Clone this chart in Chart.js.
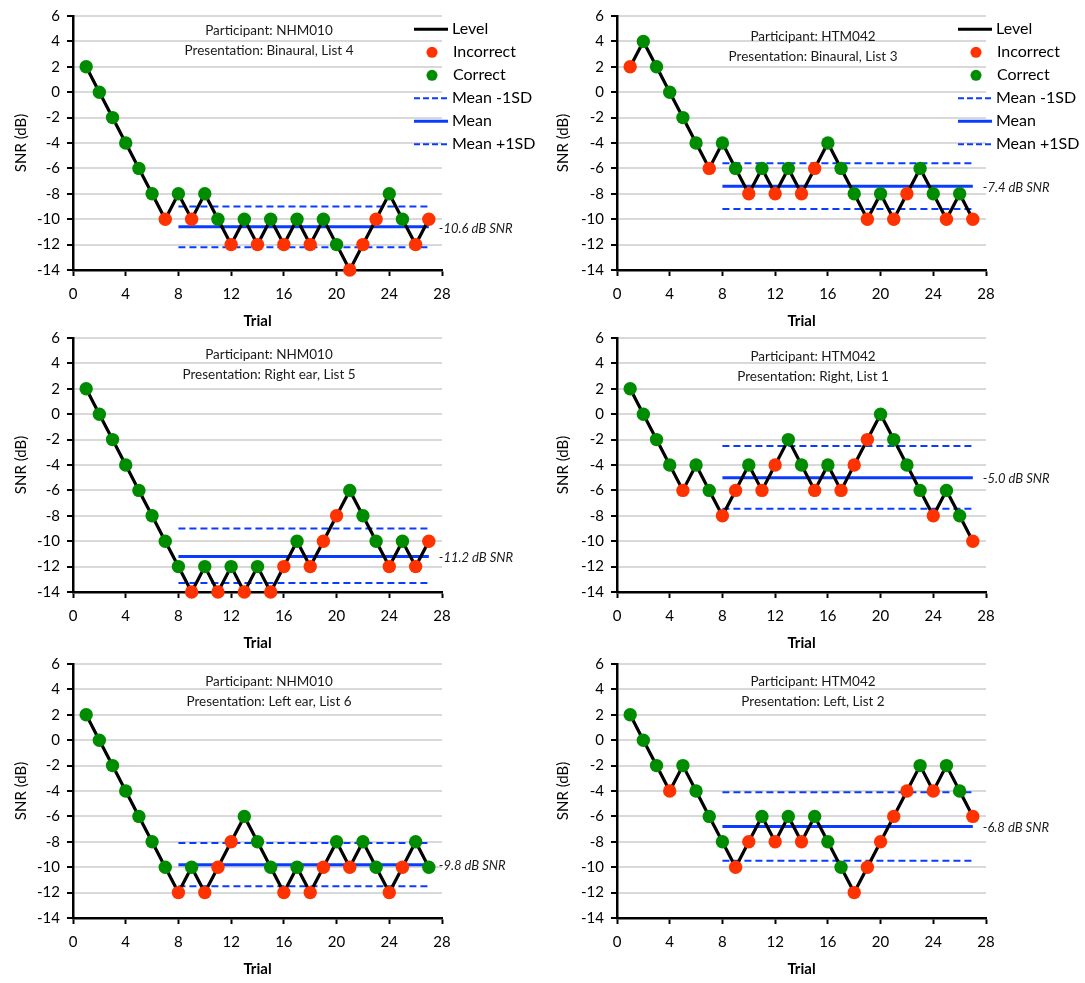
<!DOCTYPE html>
<html>
<head>
<meta charset="utf-8">
<script src="https://cdn.jsdelivr.net/npm/chart.js@4.4.1/dist/chart.umd.min.js"></script>
<style>
  body { margin: 0; background: #fff; }
  #wrap { position: relative; width: 1085px; height: 983px; overflow: hidden; }
  canvas { position: absolute; }
</style>
</head>
<body>
<div id="wrap"></div>
<script>
// trial numbers and axis ticks
const trials = [1, 2, 3, 4, 5, 6, 7, 8, 9, 10, 11, 12, 13, 14, 15, 16, 17, 18, 19, 20, 21, 22, 23, 24, 25, 26, 27];
const xTicks = [0, 4, 8, 12, 16, 20, 24, 28];
const yTicks = [-14, -12, -10, -8, -6, -4, -2, 0, 2, 4, 6];

// SNR level per trial, and response (1 = correct, 0 = incorrect)
const levelsNhmBin = [2, 0, -2, -4, -6, -8, -10, -8, -10, -8, -10, -12, -10, -12, -10, -12, -10, -12, -10, -12, -14, -12, -10, -8, -10, -12, -10];
const correctNhmBin = [1, 1, 1, 1, 1, 1, 0, 1, 0, 1, 1, 0, 1, 0, 1, 0, 1, 0, 1, 1, 0, 0, 0, 1, 1, 0, 0];

const levelsHtmBin = [2, 4, 2, 0, -2, -4, -6, -4, -6, -8, -6, -8, -6, -8, -6, -4, -6, -8, -10, -8, -10, -8, -6, -8, -10, -8, -10];
const correctHtmBin = [0, 1, 1, 1, 1, 1, 0, 1, 1, 0, 1, 0, 1, 0, 0, 1, 1, 1, 0, 1, 0, 0, 1, 1, 0, 1, 0];

const levelsNhmRight = [2, 0, -2, -4, -6, -8, -10, -12, -14, -12, -14, -12, -14, -12, -14, -12, -10, -12, -10, -8, -6, -8, -10, -12, -10, -12, -10];
const correctNhmRight = [1, 1, 1, 1, 1, 1, 1, 1, 0, 1, 0, 1, 0, 1, 0, 0, 1, 0, 0, 0, 1, 1, 1, 0, 1, 0, 0];

const levelsHtmRight = [2, 0, -2, -4, -6, -4, -6, -8, -6, -4, -6, -4, -2, -4, -6, -4, -6, -4, -2, 0, -2, -4, -6, -8, -6, -8, -10];
const correctHtmRight = [1, 1, 1, 1, 0, 1, 1, 0, 0, 1, 0, 0, 1, 1, 0, 1, 0, 0, 0, 1, 1, 1, 1, 0, 1, 1, 0];

const levelsNhmLeft = [2, 0, -2, -4, -6, -8, -10, -12, -10, -12, -10, -8, -6, -8, -10, -12, -10, -12, -10, -8, -10, -8, -10, -12, -10, -8, -10];
const correctNhmLeft = [1, 1, 1, 1, 1, 1, 1, 0, 1, 0, 0, 0, 1, 1, 1, 0, 1, 0, 0, 1, 0, 1, 1, 0, 0, 1, 1];

const levelsHtmLeft = [2, 0, -2, -4, -2, -4, -6, -8, -10, -8, -6, -8, -6, -8, -6, -8, -10, -12, -10, -8, -6, -4, -2, -4, -2, -4, -6];
const correctHtmLeft = [1, 1, 1, 0, 1, 1, 1, 1, 0, 0, 1, 0, 1, 0, 1, 1, 1, 0, 0, 0, 0, 0, 1, 0, 1, 1, 0];

// per panel summary (mean over trials 8..27)
const participants = ['NHM010', 'HTM042', 'NHM010', 'HTM042', 'NHM010', 'HTM042'];
const presentations = ['Binaural, List 4', 'Binaural, List 3', 'Right ear, List 5', 'Right, List 1', 'Left ear, List 6', 'Left, List 2'];
const meanSNR = [-10.6, -7.4, -11.2, -5.0, -9.8, -6.8];
const meanPlus1SD = [-9.0, -5.6, -9.0, -2.5, -8.1, -4.1];
const meanMinus1SD = [-12.2, -9.2, -13.3, -7.45, -11.5, -9.5];
const meanRange = [8, 27];

const allLevels = [levelsNhmBin, levelsHtmBin, levelsNhmRight, levelsHtmRight, levelsNhmLeft, levelsHtmLeft];
const allCorrect = [correctNhmBin, correctHtmBin, correctNhmRight, correctHtmRight, correctNhmLeft, correctHtmLeft];

const RED = '#ff3300';
const GREEN = '#008c00';
const BLUE = '#0a3cff';

Chart.defaults.font.family = 'Lato, "Open Sans", sans-serif';
Chart.defaults.color = '#000';

const legendItems = [
  { label: 'Level', kind: 'line', color: '#000', width: 3 },
  { label: 'Incorrect', kind: 'dot', color: RED },
  { label: 'Correct', kind: 'dot', color: GREEN },
  { label: 'Mean -1SD', kind: 'dash', color: BLUE, width: 2 },
  { label: 'Mean', kind: 'line', color: BLUE, width: 3 },
  { label: 'Mean +1SD', kind: 'dash', color: BLUE, width: 2 }
];

const textTop = [15, 21, 17, 19, 18, 18];

const panelText = {
  id: 'panelText',
  afterDraw(chart, args, opts) {
    const ctx = chart.ctx;
    const area = chart.chartArea;
    const i = opts.index;
    const xs = chart.scales.x, ys = chart.scales.y;
    ctx.save();
    // participant / presentation
    ctx.fillStyle = '#1a1a1a';
    ctx.font = '13.5px Lato, "Open Sans", sans-serif';
    ctx.textAlign = 'center';
    ctx.textBaseline = 'middle';
    const cx = area.left + 196;
    ctx.fillText('Participant: ' + participants[i], cx, area.top + textTop[i]);
    ctx.fillText('Presentation: ' + presentations[i], cx, area.top + textTop[i] + 19.5);
    // mean label
    ctx.font = 'italic 13px Lato, "Open Sans", sans-serif';
    ctx.textAlign = 'left';
    ctx.fillText(meanSNR[i].toFixed(1) + ' dB SNR', xs.getPixelForValue(meanRange[1]) + 10, ys.getPixelForValue(meanSNR[i]) + 1.5);
    // legend, top row only
    if (i < 2) {
      const x0 = area.left + 341;
      ctx.font = '16px Lato, "Open Sans", sans-serif';
      legendItems.forEach((it, k) => {
        const y = area.top + 13.3 + k * 23;
        if (it.kind === 'dot') {
          ctx.fillStyle = it.color;
          ctx.beginPath();
          ctx.arc(x0 + 18, y, 5.5, 0, Math.PI * 2);
          ctx.fill();
        } else {
          ctx.strokeStyle = it.color;
          ctx.lineWidth = it.width;
          ctx.setLineDash(it.kind === 'dash' ? [6, 3] : []);
          ctx.beginPath();
          ctx.moveTo(x0, y);
          ctx.lineTo(x0 + 34, y);
          ctx.stroke();
          ctx.setLineDash([]);
        }
        ctx.fillStyle = '#000';
        ctx.fillText(it.label, x0 + (it.kind === 'dot' ? 39 : 38), y);
      });
    }
    ctx.restore();
  }
};

const wrap = document.getElementById('wrap');
const rowTops = [0, 322, 648];

for (let i = 0; i < 6; i++) {
  const col = i % 2, row = Math.floor(i / 2);
  const canvas = document.createElement('canvas');
  const w = col ? 543 : 542;
  canvas.width = w;
  canvas.height = 330;
  canvas.style.left = (col ? 542 : 0) + 'px';
  canvas.style.top = rowTops[row] + 'px';
  wrap.appendChild(canvas);

  const levels = allLevels[i];
  const correct = allCorrect[i];
  const levelPts = trials.map((t, k) => ({ x: t, y: levels[k] }));
  const wrongPts = levelPts.filter((p, k) => correct[k] === 0);
  const rightPts = levelPts.filter((p, k) => correct[k] === 1);
  const hline = v => meanRange.map(x => ({ x: x, y: v }));

  new Chart(canvas, {
    type: 'scatter',
    data: {
      datasets: [
        { label: 'Incorrect', data: wrongPts, pointRadius: 6.7, pointBackgroundColor: RED, pointBorderWidth: 0, order: 0, clip: false },
        { label: 'Correct', data: rightPts, pointRadius: 6.7, pointBackgroundColor: GREEN, pointBorderWidth: 0, order: 0, clip: false },
        { label: 'Level', data: levelPts, showLine: true, borderColor: '#000', borderWidth: 3.2, pointRadius: 0, order: 1, clip: false },
        { label: 'Mean -1SD', data: hline(meanMinus1SD[i]), showLine: true, borderColor: BLUE, borderWidth: 2, borderDash: [7, 4], pointRadius: 0, order: 2 },
        { label: 'Mean', data: hline(meanSNR[i]), showLine: true, borderColor: BLUE, borderWidth: 3, pointRadius: 0, order: 2 },
        { label: 'Mean +1SD', data: hline(meanPlus1SD[i]), showLine: true, borderColor: BLUE, borderWidth: 2, borderDash: [7, 4], pointRadius: 0, order: 2 }
      ]
    },
    options: {
      responsive: false,
      animation: false,
      devicePixelRatio: 1,
      layout: { padding: { left: 0, right: col ? 99 : 100, top: 14, bottom: 0 } },
      plugins: {
        legend: { display: false },
        tooltip: { enabled: false },
        panelText: { index: i }
      },
      scales: {
        x: {
          type: 'linear',
          min: xTicks[0],
          max: xTicks[xTicks.length - 1],
          ticks: { stepSize: xTicks[1] - xTicks[0], font: { size: 15 }, padding: 9, color: '#000' },
          grid: { drawOnChartArea: false, tickLength: 6, tickColor: '#000', tickWidth: 2 },
          border: { color: '#000', width: 2.5 },
          title: { display: true, text: 'Trial', font: { size: 15, weight: 'bold' }, color: '#000', padding: 0 },
          afterFit(s) { s.height = 60; }
        },
        y: {
          min: yTicks[0],
          max: yTicks[yTicks.length - 1],
          ticks: { stepSize: yTicks[1] - yTicks[0], font: { size: 15 }, padding: 7, color: '#000' },
          grid: {
            color: c => (c.tick && c.tick.value === yTicks[0]) ? 'rgba(0,0,0,0)' : '#d9d9d9',
            lineWidth: 2, tickLength: 6, tickColor: '#000', tickWidth: 2
          },
          border: { color: '#000', width: 2.5 },
          title: { display: true, text: 'SNR (dB)', font: { size: 15 }, color: '#000', padding: { top: 12, bottom: 0 } },
          afterFit(s) { s.width = col ? 75 : 73; }
        }
      }
    },
    plugins: [panelText]
  });
}
</script>
</body>
</html>
